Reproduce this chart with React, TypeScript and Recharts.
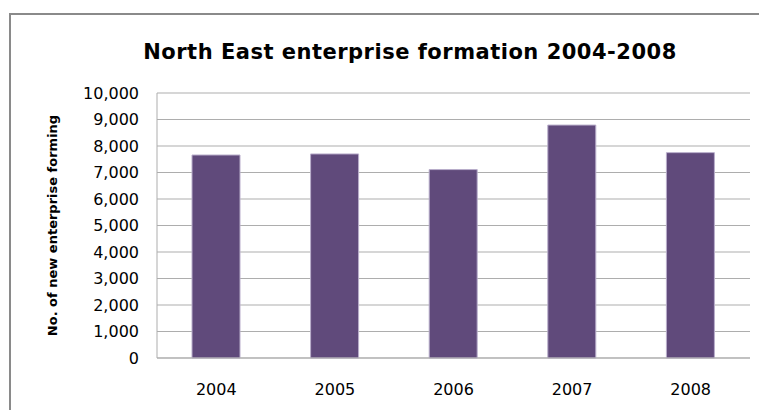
import { Bar, BarChart, CartesianGrid, XAxis, YAxis } from "recharts";

const years = ["2004", "2005", "2006", "2007", "2008"];
const enterprises = [7660, 7700, 7110, 8790, 7750];
const yTicks = [0, 1000, 2000, 3000, 4000, 5000, 6000, 7000, 8000, 9000, 10000];

const data = years.map((year, i) => ({ year, count: enterprises[i] }));

const formatThousands = (v: number) => v.toLocaleString("en-US");

export default function App() {
  return (
    <div style={{ position: "absolute", left: 0, top: 0, width: 759, height: 410, background: "#fff", overflow: "hidden" }}>
      <div
        style={{
          position: "absolute",
          left: 9,
          top: 13,
          width: 780,
          height: 420,
          border: "2px solid #8a8a8a",
        }}
      />
      <div
        style={{
          position: "absolute",
          left: 0,
          width: 820,
          top: 40,
          textAlign: "center",
          fontFamily: "DejaVu Sans, sans-serif",
          fontWeight: "bold",
          fontSize: 21,
          letterSpacing: 0.5,
          color: "#000",
        }}
      >
        North East enterprise formation 2004-2008
      </div>
      <BarChart
        width={759}
        height={410}
        data={data}
        margin={{ top: 93, right: 9, bottom: 22, left: 0 }}
        barSize={48}
        style={{ position: "absolute", left: 0, top: 0 }}
      >
        <CartesianGrid horizontal vertical={false} stroke="#adadad" />
        <XAxis
          dataKey="year"
          height={30}
          axisLine={{ stroke: "#adadad" }}
          tickLine={false}
          tick={{ fill: "#000", fontSize: 16, fontFamily: "DejaVu Sans, sans-serif" }}
          tickMargin={20}
        />
        <YAxis
          width={157}
          domain={[0, 10000]}
          ticks={yTicks}
          interval={0}
          tickFormatter={formatThousands}
          axisLine={{ stroke: "#adadad" }}
          tickLine={false}
          tickMargin={12}
          tick={{ fill: "#000", fontSize: 16, fontFamily: "DejaVu Sans, sans-serif" }}
          label={{
            content: ({ viewBox }: any) => {
              const cy = viewBox.y + viewBox.height / 2;
              return (
                <text
                  x={52}
                  y={cy}
                  transform={`rotate(-90 52 ${cy})`}
                  textAnchor="middle"
                  dominantBaseline="central"
                  fontFamily="DejaVu Sans, sans-serif"
                  fontWeight="bold"
                  fontSize={13}
                  fill="#000"
                >
                  No. of new enterprise forming
                </text>
              );
            },
          }}
        />
        <Bar dataKey="count" fill="#604a7b" stroke="#b9aecb" strokeWidth={1} isAnimationActive={false} />
      </BarChart>
    </div>
  );
}
